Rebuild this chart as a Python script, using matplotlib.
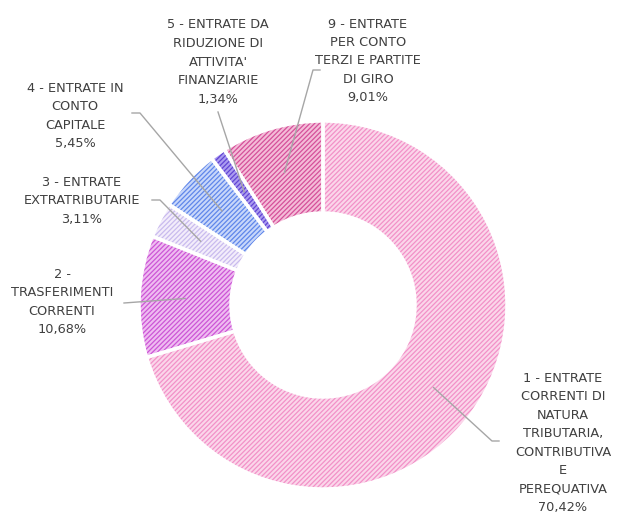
import numpy as np
import matplotlib
matplotlib.use("Agg")
import matplotlib.pyplot as plt

# data
labels = [
    "1 - ENTRATE\nCORRENTI DI\nNATURA\nTRIBUTARIA,\nCONTRIBUTIVA\nE\nPEREQUATIVA",
    "2 -\nTRASFERIMENTI\nCORRENTI",
    "3 - ENTRATE\nEXTRATRIBUTARIE",
    "4 - ENTRATE IN\nCONTO\nCAPITALE",
    "5 - ENTRATE DA\nRIDUZIONE DI\nATTIVITA'\nFINANZIARIE",
    "9 - ENTRATE\nPER CONTO\nTERZI E PARTITE\nDI GIRO",
]
shares = [70.42, 10.68, 3.11, 5.45, 1.34, 9.01]
pct_text = ["70,42%", "10,68%", "3,11%", "5,45%", "1,34%", "9,01%"]

# styling: base fill and stripe colour per slice
face_colors = ["#fbd6ea", "#efbcf1", "#f3edfb", "#c8d7fa", "#ab9cf0", "#f4bcd8"]
stripe_colors = ["#f291c8", "#cc55d6", "#c9bbee", "#5f86ea", "#6244d4", "#d5509a"]

# layout in pixel coords (y measured from the bottom)
W, H = 617, 514
center = (323, H - 305)
radius = 184
label_pos = [(563, H - 443), (62, H - 302), (82, H - 201), (75, H - 116), (218, H - 62), (368, H - 61)]
# where the leader line leaves the label (pixel coords from top) and its elbow
line_start = [(499, 441), (124, 303), (152, 200), (132, 113), (218, 112), (320, 70)]
line_elbow = [(492, 441), (124, 303), (160, 200), (140, 113), (218, 112), (313, 70)]

plt.rcParams["hatch.linewidth"] = 0.9
plt.rcParams["font.family"] = ["DejaVu Sans"]

fig = plt.figure(figsize=(W / 100, H / 100), dpi=100)
ax = fig.add_axes([0, 0, 1, 1])

wedges, _ = ax.pie(
    shares,
    startangle=90,
    counterclock=False,
    center=center,
    radius=radius,
    colors=face_colors,
    wedgeprops=dict(width=radius * 0.5, linewidth=0),
)
for w, sc in zip(wedges, stripe_colors):
    w.set_hatch("///////")
    w.set_edgecolor(sc)

# white separators on top
ax.pie(
    shares,
    startangle=90,
    counterclock=False,
    center=center,
    radius=radius,
    colors=["none"] * len(shares),
    wedgeprops=dict(width=radius * 0.5, linewidth=2.5, edgecolor="white"),
)

# leader lines and labels
total = sum(shares)
cum = 0.0
for i, s in enumerate(shares):
    mid = (cum + s / 2) / total
    cum += s
    theta = np.deg2rad(90 - 360 * mid)
    r_mid = radius * 0.75
    ax_pt = (center[0] + r_mid * np.cos(theta), center[1] + r_mid * np.sin(theta))
    sx, sy = line_start[i]
    ex, ey = line_elbow[i]
    ax.plot([sx, ex, ax_pt[0]], [H - sy, H - ey, ax_pt[1]],
            color="#a6a6a6", linewidth=1.0, zorder=5)
    ax.text(label_pos[i][0], label_pos[i][1], labels[i] + "\n" + pct_text[i],
            ha="center", va="center", fontsize=9.3, color="#404040",
            linespacing=1.55, zorder=6)

ax.set_xlim(0, W)
ax.set_ylim(0, H)
ax.set_aspect("equal")
ax.axis("off")

fig.savefig("out.png", dpi=100, facecolor="white")
